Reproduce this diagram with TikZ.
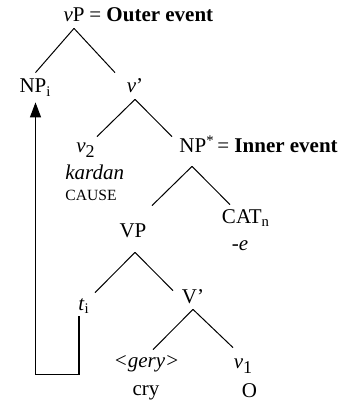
\documentclass[tikz,border=0pt]{standalone}
\usepackage{fontspec}
\setmainfont{Liberation Serif}
\usetikzlibrary{arrows.meta}
\newcommand{\lowsub}[1]{\raisebox{-2.5pt}{\fontsize{9pt}{9pt}\selectfont #1}}

\begin{document}
\begin{tikzpicture}[x=0.5pt, y=-0.5pt, font=\fontsize{10.5pt}{12pt}\selectfont,
  cat/.style={anchor=base, inner sep=3pt, text height=7pt, text depth=0pt},
  gloss/.style={anchor=base west, inner sep=0pt},
  ramo/.style={line width=0.5pt}]
  \useasboundingbox (0,0) rectangle (346,400);

  % Nós
  \node[cat] (vP) at (74,22) {\textit{v}P};
  \node[gloss] (outer) at (89,22) {= \textbf{Outer event}};
  \node[cat] (NPi) at (35.5,93) {NP\textsubscript{i}};
  \node[cat] (vbar) at (135,93) {\textit{v}'};
  \node[cat] (vtwo) at (85.5,153) {\textit{v}\lowsub{2}};
  \node[gloss] (kardan) at (65,180) {\textit{kardan}};
  \node[gloss] (cause) at (65,200) {\fontsize{7.8pt}{9pt}\selectfont CAUSE};
  \node[cat] (NPs) at (197,153) {NP\textsuperscript{*}};
  \node[gloss] (inner) at (217,153) {= \textbf{Inner event}};
  \node[cat] (CAT) at (246,223) {CAT\textsubscript{n}};
  \node[cat] (suf) at (240,250) {\textit{-e}};
  \node[cat] (VP) at (133,237) {VP};
  \node[cat] (ti) at (84,310) {\textit{t}\textsubscript{i}};
  \node[cat] (Vbar) at (193,303) {V'};
  \node[cat] (gery) at (146.5,367) {\textit{<gery>}};
  \node[cat] (vone) at (243,368) {\textit{v}\lowsub{1}};
  \node[cat] (cry) at (146,395) {cry};
  \node[cat] (O) at (249.5,397) {O};

  % Ramos
  \draw[ramo] (vP.south) -- (NPi.north);
  \draw[ramo] (vP.south) -- ([xshift=-10pt]vbar.north);
  \draw[ramo] (vbar.south) -- ([xshift=5.75pt,yshift=-2pt]vtwo.north);
  \draw[ramo] (vbar.south) -- ([xshift=-12.5pt,yshift=-2pt]NPs.north);
  \draw[ramo] ([xshift=-2.5pt,yshift=-3.5pt]NPs.south) -- ([xshift=9.5pt,yshift=5.5pt]VP.north);
  \draw[ramo] ([xshift=-2.5pt,yshift=-3.5pt]NPs.south) -- ([xshift=-8pt,yshift=-1pt]CAT.north);
  \draw[ramo] ([xshift=1pt,yshift=-4.5pt]VP.south) -- ([xshift=5.5pt,yshift=-1.5pt]ti.north);
  \draw[ramo] ([xshift=1pt,yshift=-4.5pt]VP.south) -- ([xshift=-10pt,yshift=-4pt]Vbar.north);
  \draw[ramo] (Vbar.south) -- ([xshift=3.25pt,yshift=-1.5pt]gery.north);
  \draw[ramo] (Vbar.south) -- ([xshift=-5pt]vone.north);

  % Movimento
  \draw[line width=0.6pt, -{Triangle[length=7.5pt,width=5.5pt]}] ([xshift=-2.5pt]ti.south) -- ++(0,58) -| ([yshift=-1.5pt]NPi.south);
\end{tikzpicture}
\end{document}
